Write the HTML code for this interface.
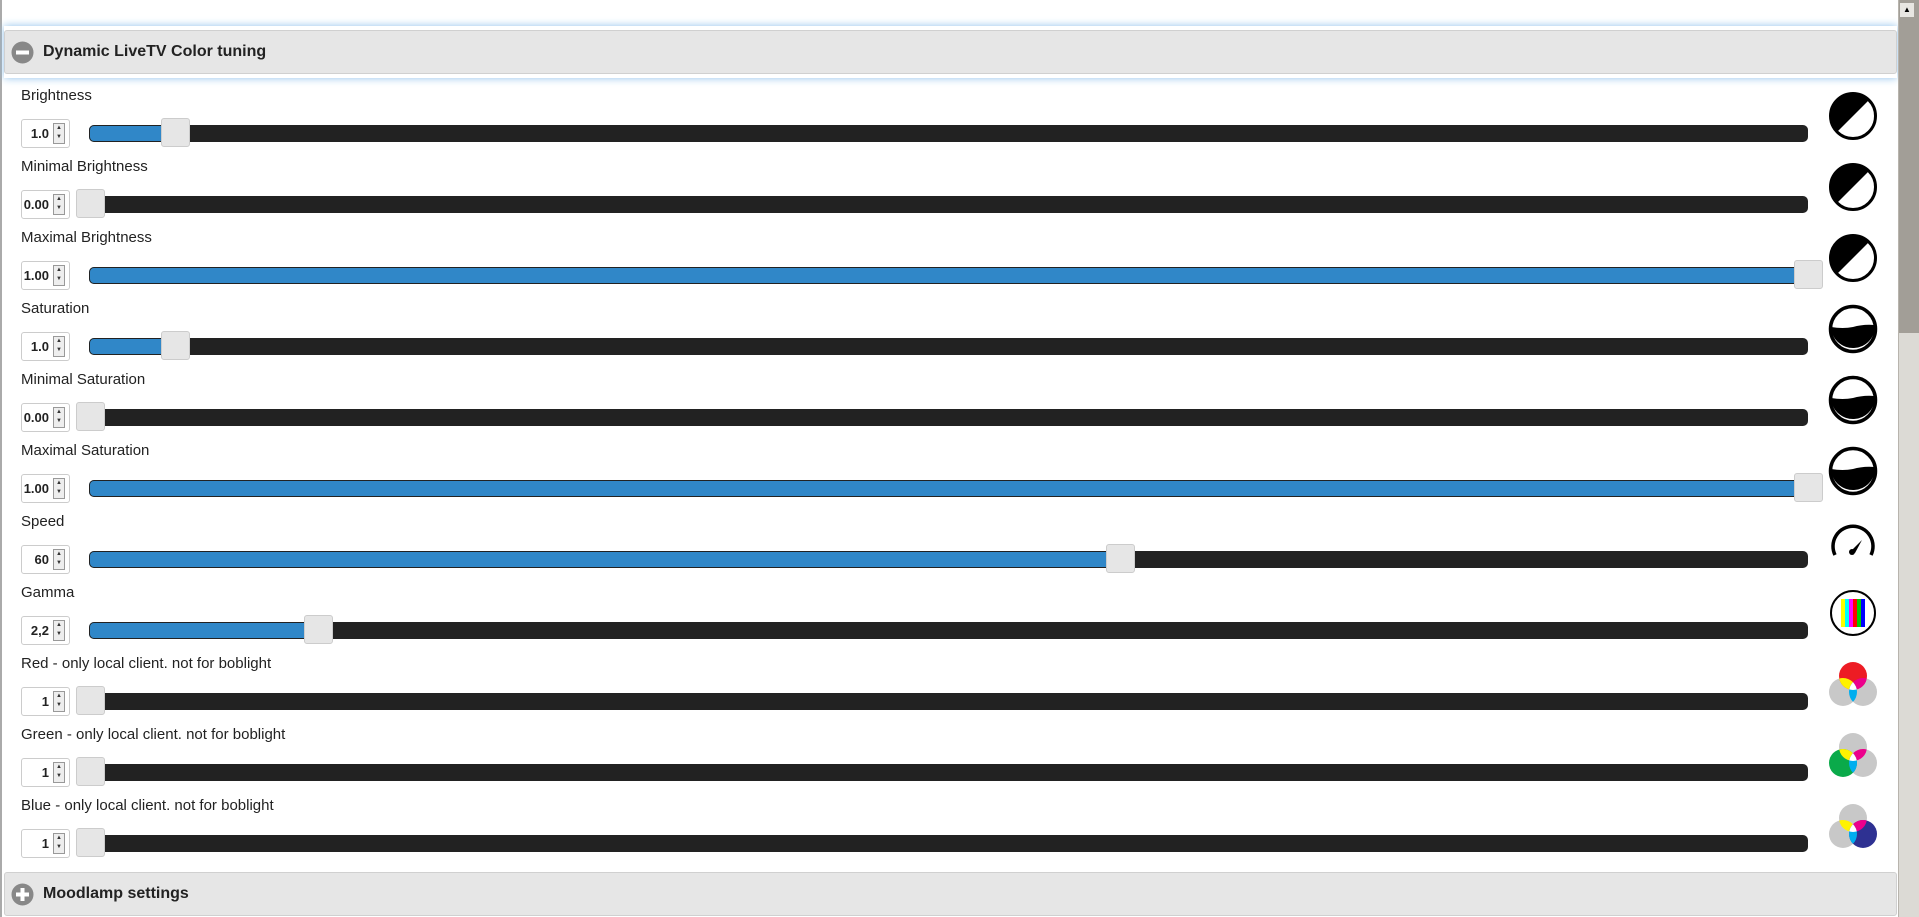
<!DOCTYPE html>
<html><head><meta charset="utf-8"><style>
body{margin:0;width:1919px;height:917px;overflow:hidden;background:#fff;font-family:"Liberation Sans",sans-serif;position:relative}
.a{position:absolute}
.hdr{position:absolute;left:4px;width:1893px;height:44px;background:#e6e6e6;border:1px solid #d0d0d0;border-radius:3px;box-sizing:border-box}
.hdr b{position:absolute;left:38px;top:12px;font-size:16px;color:#222}
.lbl{position:absolute;left:21px;font-size:15px;color:#222}
.sp{position:absolute;left:21px;width:49px;height:29px;border:1px solid #ccc;border-radius:3px;box-sizing:border-box;background:#fff}
.sp span{position:absolute;right:20px;top:6px;font-size:13px;font-weight:bold;color:#222}
.sp i{position:absolute;left:31px;top:3px;width:12px;height:21px;background:#eee;border:1px solid #999;box-sizing:border-box;font-style:normal;font-size:6px;line-height:9px;text-align:center;color:#333}
.tr{position:absolute;left:89px;width:1719px;height:17px;background:#222;border-radius:5px;overflow:hidden}
.tr div{height:17px;background:#3087c8;box-shadow:inset 0 0 0 1px #222;border-radius:5px 0 0 5px}
.th{position:absolute;width:29px;height:29px;background:#e6e6e6;border:1px solid #ccc;border-radius:3px;box-sizing:border-box}
</style></head><body>
<div class="a" style="left:0;top:0;width:2px;height:917px;background:#aaa"></div>
<div class="a" style="left:4px;top:26px;width:1893px;height:52px;box-shadow:0 0 8px #8ec0ea;"></div>
<div class="hdr" style="top:30px"><svg class="a" style="left:6px;top:10px" width="23" height="23"><circle cx="11.5" cy="11.5" r="11" fill="#888"/><rect x="5" y="9.5" width="13" height="4" fill="#fff"/></svg><b>Dynamic LiveTV Color tuning</b></div>
<div class="hdr" style="top:872px"><svg class="a" style="left:6px;top:10px" width="23" height="23"><circle cx="11.5" cy="11.5" r="11" fill="#888"/><rect x="5" y="9.5" width="13" height="4" fill="#fff"/><rect x="9.5" y="5" width="4" height="13" fill="#fff"/></svg><b>Moodlamp settings</b></div>
<div class="a" style="left:1898px;top:0;width:21px;height:917px;background:#dcdad5;border-left:1px solid #b8b4ad;box-sizing:border-box"></div>
<div class="a" style="left:1899px;top:0;width:20px;height:333px;background:#a29e97"></div>
<div class="a" style="left:1900px;top:3px;width:14px;height:14px;background:#e8e6e2;font-size:8px;text-align:center;line-height:14px">▲</div>

<div class="lbl" style="top:87px">Brightness</div><div class="sp" style="top:119px"><span>1.0</span><i>▲<br>▼</i></div><div class="tr" style="top:125px"><div style="width:86px"></div></div><div class="th" style="left:161px;top:118px"></div>
<div class="lbl" style="top:158px">Minimal Brightness</div><div class="sp" style="top:190px"><span>0.00</span><i>▲<br>▼</i></div><div class="tr" style="top:196px"></div><div class="th" style="left:76px;top:189px"></div>
<div class="lbl" style="top:229px">Maximal Brightness</div><div class="sp" style="top:261px"><span>1.00</span><i>▲<br>▼</i></div><div class="tr" style="top:267px"><div style="width:1719px"></div></div><div class="th" style="left:1794px;top:260px"></div>
<div class="lbl" style="top:300px">Saturation</div><div class="sp" style="top:332px"><span>1.0</span><i>▲<br>▼</i></div><div class="tr" style="top:338px"><div style="width:86px"></div></div><div class="th" style="left:161px;top:331px"></div>
<div class="lbl" style="top:371px">Minimal Saturation</div><div class="sp" style="top:403px"><span>0.00</span><i>▲<br>▼</i></div><div class="tr" style="top:409px"></div><div class="th" style="left:76px;top:402px"></div>
<div class="lbl" style="top:442px">Maximal Saturation</div><div class="sp" style="top:474px"><span>1.00</span><i>▲<br>▼</i></div><div class="tr" style="top:480px"><div style="width:1719px"></div></div><div class="th" style="left:1794px;top:473px"></div>
<div class="lbl" style="top:513px">Speed</div><div class="sp" style="top:545px"><span>60</span><i>▲<br>▼</i></div><div class="tr" style="top:551px"><div style="width:1031px"></div></div><div class="th" style="left:1106px;top:544px"></div>
<div class="lbl" style="top:584px">Gamma</div><div class="sp" style="top:616px"><span>2,2</span><i>▲<br>▼</i></div><div class="tr" style="top:622px"><div style="width:229px"></div></div><div class="th" style="left:304px;top:615px"></div>
<div class="lbl" style="top:655px">Red - only local client. not for boblight</div><div class="sp" style="top:687px"><span>1</span><i>▲<br>▼</i></div><div class="tr" style="top:693px"></div><div class="th" style="left:76px;top:686px"></div>
<div class="lbl" style="top:726px">Green - only local client. not for boblight</div><div class="sp" style="top:758px"><span>1</span><i>▲<br>▼</i></div><div class="tr" style="top:764px"></div><div class="th" style="left:76px;top:757px"></div>
<div class="lbl" style="top:797px">Blue - only local client. not for boblight</div><div class="sp" style="top:829px"><span>1</span><i>▲<br>▼</i></div><div class="tr" style="top:835px"></div><div class="th" style="left:76px;top:828px"></div>

<svg class="a" style="left:0;top:0" width="1919" height="917">
<defs>
<g id="br"><circle r="22.5" fill="#fff" stroke="#000" stroke-width="3"/><path d="M16,-16 A22.5,22.5 0 1 0 -16,16 Z" fill="#000"/></g>
<g id="sa"><circle r="22.5" fill="#fff" stroke="#000" stroke-width="3.5"/><path d="M-22,-2 Q-10,0 0,-2 Q10,-5 22,-4 A22,22 0 0 1 -22,-2Z" fill="#000"/></g>
<clipPath id="cT"><circle cx="0" cy="-8" r="14"/></clipPath>
<clipPath id="cL"><circle cx="-10" cy="8" r="14"/></clipPath>
<clipPath id="cR"><circle cx="10" cy="8" r="14"/></clipPath>
<g id="ov">
<g clip-path="url(#cT)"><circle cx="-10" cy="8" r="14" fill="#fff200"/><circle cx="10" cy="8" r="14" fill="#ec008c"/></g>
<g clip-path="url(#cL)"><circle cx="10" cy="8" r="14" fill="#00aeef"/></g>
<g clip-path="url(#cL)"><g clip-path="url(#cR)"><circle cx="0" cy="-8" r="14" fill="#fff"/></g></g>
</g>
</defs>
<use href="#br" x="1853" y="116"/><use href="#br" x="1853" y="187"/><use href="#br" x="1853" y="258"/>
<use href="#sa" x="1853" y="329"/><use href="#sa" x="1853" y="400"/><use href="#sa" x="1853" y="471"/>
<g transform="translate(1853,545)" fill="none" stroke="#000" stroke-width="3.5"><path d="M-18,10 A20,20 0 1 1 18,10"/></g>
<path d="M1851,551 L1862,540 L1855,553Z" fill="#000"/><circle cx="1852" cy="552" r="3" fill="#000"/>
<g transform="translate(1853,613)"><circle r="22" fill="#fff" stroke="#000" stroke-width="2"/>
<rect x="-12" y="-14" width="4" height="28" fill="#ff0"/><rect x="-8" y="-14" width="4" height="28" fill="#0ff"/><rect x="-4" y="-14" width="4" height="28" fill="#f0f"/><rect x="0" y="-14" width="4" height="28" fill="#f00"/><rect x="4" y="-14" width="4" height="28" fill="#0c0"/><rect x="8" y="-14" width="4" height="28" fill="#00f"/></g>
<g transform="translate(1853,684)"><circle cx="-10" cy="8" r="14" fill="#c8c8c8"/><circle cx="10" cy="8" r="14" fill="#c8c8c8"/><circle cx="0" cy="-8" r="14" fill="#ed1c24"/><use href="#ov"/></g>
<g transform="translate(1853,755)"><circle cx="0" cy="-8" r="14" fill="#c8c8c8"/><circle cx="10" cy="8" r="14" fill="#c8c8c8"/><circle cx="-10" cy="8" r="14" fill="#0aaa4a"/><use href="#ov"/></g>
<g transform="translate(1853,826)"><circle cx="0" cy="-8" r="14" fill="#c8c8c8"/><circle cx="-10" cy="8" r="14" fill="#c8c8c8"/><circle cx="10" cy="8" r="14" fill="#2e3192"/><use href="#ov"/></g>
</svg>
</body></html>
